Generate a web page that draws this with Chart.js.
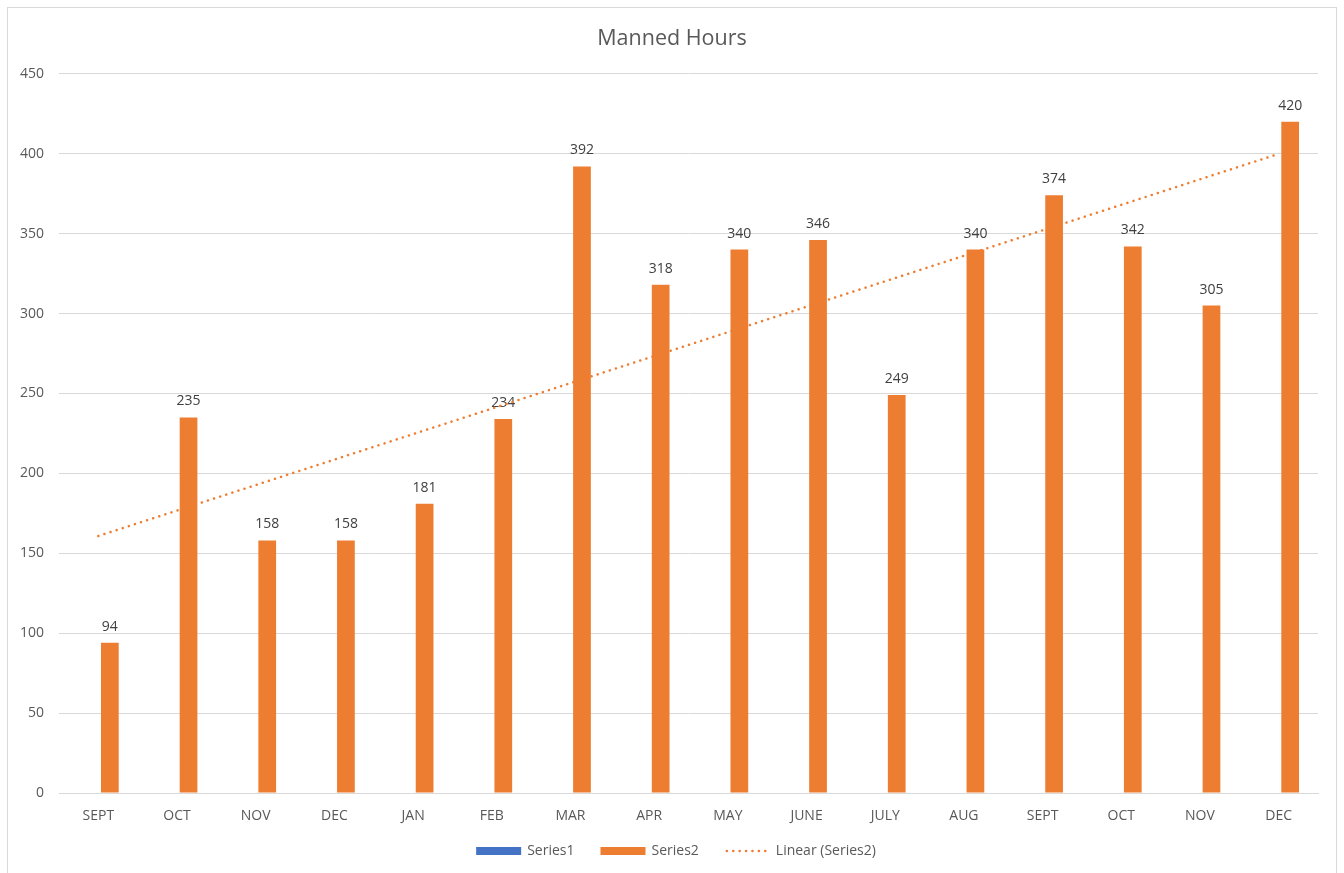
<!DOCTYPE html>
<html>
<head>
<meta charset="utf-8">
<title>Manned Hours</title>
<script src="https://cdn.jsdelivr.net/npm/chart.js@4.4.1/dist/chart.umd.min.js"></script>
<style>
  html, body { margin: 0; padding: 0; background: #ffffff; overflow: hidden; }
  #frame {
    position: absolute; left: 7px; top: 7px; width: 1330px; height: 880px;
    border: 1px solid #D9D9D9; box-sizing: border-box;
  }
  #c { position: absolute; left: 0; top: 0; }
</style>
</head>
<body>
<div id="frame"></div>
<canvas id="c" width="1344" height="873"></canvas>
<script>
// Months on the category axis
const months = ['SEPT', 'OCT', 'NOV', 'DEC', 'JAN', 'FEB', 'MAR', 'APR',
                'MAY', 'JUNE', 'JULY', 'AUG', 'SEPT', 'OCT', 'NOV', 'DEC'];

// Series1 has no values; it only holds its slot next to Series2
const series1 = [null, null, null, null, null, null, null, null,
                 null, null, null, null, null, null, null, null];

// Manned hours per month
const series2 = [94, 235, 158, 158, 181, 234, 392, 318,
                 340, 346, 249, 340, 374, 342, 305, 420];

// Linear trend of Series2: value at first and last month, straight line between
const trendSeries2 = [160.8, null, null, null, null, null, null, null,
                      null, null, null, null, null, null, null, 399.9];

// Value axis
const yMin = 0;
const yMax = 450;
const yStep = 50;

const FONT = "'Open Sans', 'Liberation Sans', sans-serif";
const TEXT = '#595959';
const ORANGE = '#ED7D31';
const BLUE = '#4472C4';
const GRID = '#D9D9D9';

// Value labels above each Series2 bar (drawn right after the bars, under the trend line)
const barValueLabels = {
  id: 'barValueLabels',
  afterDatasetDraw(chart, args) {
    if (args.index !== 1) return;
    const ctx = chart.ctx;
    const meta = args.meta;
    const data = chart.data.datasets[1].data;
    ctx.save();
    ctx.font = '14px ' + FONT;
    ctx.fillStyle = '#404040';
    ctx.textAlign = 'center';
    ctx.textBaseline = 'alphabetic';
    meta.data.forEach((bar, i) => {
      if (data[i] == null) return;
      ctx.fillText(String(data[i]), bar.x, bar.y - 12);
    });
    ctx.restore();
  }
};

// Legend row under the axis: filled bars for the bar series, dotted line for the trend
const bottomLegend = {
  id: 'bottomLegend',
  afterDraw(chart) {
    const ctx = chart.ctx;
    const boxW = 45, boxH = 8, gap = 6, spacing = 26;
    const cy = 851;
    ctx.save();
    ctx.font = '14px ' + FONT;
    const items = chart.data.datasets.map(ds => ({
      label: ds.label,
      kind: ds.type === 'line' ? 'line' : 'bar',
      color: ds.type === 'line' ? ds.borderColor : ds.backgroundColor,
      textW: ctx.measureText(ds.label).width
    }));
    let total = 0;
    items.forEach((it, i) => { total += boxW + gap + it.textW + (i ? spacing : 0); });
    let x = chart.width / 2 + 4 - total / 2;
    items.forEach(it => {
      if (it.kind === 'bar') {
        ctx.fillStyle = it.color;
        ctx.fillRect(x, cy - boxH / 2, boxW, boxH);
      } else {
        ctx.strokeStyle = it.color;
        ctx.lineWidth = 2.5;
        ctx.lineCap = 'round';
        ctx.setLineDash([0.1, 6.3]);
        ctx.beginPath();
        ctx.moveTo(x + 2, cy);
        ctx.lineTo(x + boxW - 2, cy);
        ctx.stroke();
        ctx.setLineDash([]);
      }
      ctx.fillStyle = TEXT;
      ctx.textAlign = 'left';
      ctx.textBaseline = 'middle';
      ctx.fillText(it.label, x + boxW + gap, cy);
      x += boxW + gap + it.textW + spacing;
    });
    ctx.restore();
  }
};

new Chart(document.getElementById('c'), {
  data: {
    labels: months,
    datasets: [
      {
        type: 'bar',
        label: 'Series1',
        data: series1,
        backgroundColor: BLUE,
        categoryPercentage: 0.585,
        barPercentage: 0.77,
        order: 2
      },
      {
        type: 'bar',
        label: 'Series2',
        data: series2,
        backgroundColor: ORANGE,
        categoryPercentage: 0.585,
        barPercentage: 0.77,
        order: 2
      },
      {
        type: 'line',
        label: 'Linear (Series2)',
        data: trendSeries2,
        borderColor: ORANGE,
        backgroundColor: ORANGE,
        borderWidth: 2.5,
        borderDash: [0.1, 6.3],
        borderCapStyle: 'round',
        pointRadius: 0,
        spanGaps: true,
        fill: false,
        order: 1
      }
    ]
  },
  options: {
    responsive: false,
    animation: false,
    devicePixelRatio: 1,
    layout: { padding: { left: 0, right: 0, top: 0, bottom: 40 } },
    plugins: {
      legend: { display: false },
      tooltip: { enabled: false },
      title: {
        display: true,
        text: 'Manned Hours',
        color: TEXT,
        font: { family: FONT, size: 21.5, weight: 'normal', lineHeight: 1.2 },
        padding: { top: 26, bottom: 22 }
      }
    },
    scales: {
      x: {
        offset: true,
        grid: { display: false, drawTicks: false },
        border: { display: true, color: GRID, width: 1 },
        ticks: {
          color: TEXT,
          font: { family: FONT, size: 14 },
          padding: 15,
          maxRotation: 0,
          autoSkip: false
        },
        afterFit(scale) { scale.height = 40; }
      },
      y: {
        min: yMin,
        max: yMax,
        grid: { color: GRID, lineWidth: 1, drawTicks: false },
        border: { display: false },
        ticks: {
          stepSize: yStep,
          color: TEXT,
          font: { family: FONT, size: 14 },
          padding: 15
        },
        afterFit(scale) { scale.width = 59; }
      },
      // empty strip on the right edge of the plot
      yRight: {
        position: 'right',
        display: true,
        min: yMin,
        max: yMax,
        grid: { display: false, drawTicks: false },
        border: { display: false },
        ticks: { display: false },
        afterFit(scale) { scale.width = 26; }
      }
    }
  },
  plugins: [barValueLabels, bottomLegend]
});
</script>
</body>
</html>
